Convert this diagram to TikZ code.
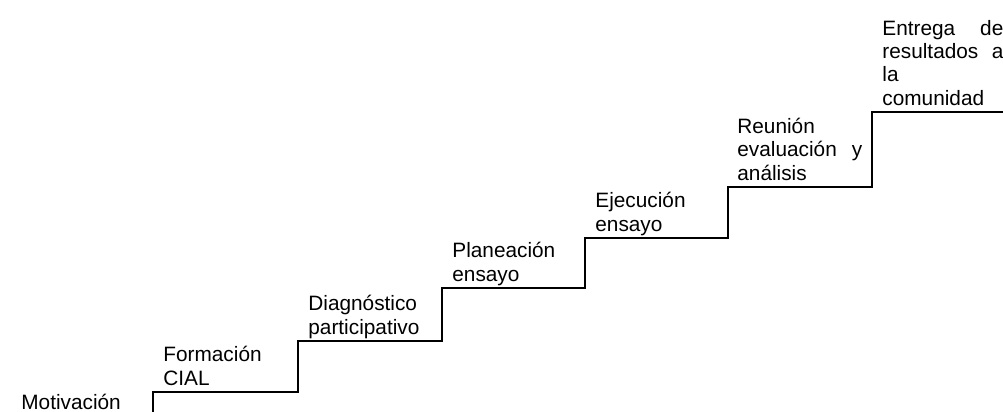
\documentclass[tikz,border=0pt]{standalone}
\usepackage{fontspec}
\setmainfont{Liberation Sans}
\newcommand{\bloque}[2][62.5pt]{\parbox[b]{#1}{#2}}
\newcommand{\estira}{\hspace{0pt plus 1filll}}
\begin{document}
\begin{tikzpicture}[x=0.5pt,y=-0.5pt, font=\fontsize{10.4pt}{11.6pt}\selectfont, line join=miter,
  paso/.style={anchor=base west,inner sep=0pt,xshift=5pt,yshift=3.5pt}]
  \useasboundingbox (0,0) rectangle (1003,412);
  % esquinas de la escalera
  \coordinate (p0) at (153,412);
  \coordinate (p1) at (153,392);
  \coordinate (p2) at (298,341);
  \coordinate (p3) at (442,288);
  \coordinate (p4) at (585,238);
  \coordinate (p5) at (728,187);
  \coordinate (p6) at (872,112);
  \coordinate (p7) at (1003,112);
  \draw[line width=1pt] (p0)--(p1)-|(p2)-|(p3)-|(p4)-|(p5)-|(p6)--(p7);
  \node (mot) at (21,409.5) [anchor=base west,inner sep=0pt]{Motivación};
  \node (form) at (p1) [paso]{\bloque{Formación\\CIAL}};
  \node (diag) at (p2) [paso]{\bloque{Diagnóstico\\participativo}};
  \node (plan) at (p3) [paso]{\bloque{Planeación\\ensayo}};
  \node (ejec) at (p4) [paso]{\bloque{Ejecución\\ensayo}};
  \node (reun) at (p5) [paso,xshift=-0.5pt]{\bloque{Reunión\\evaluación\estira y\\análisis}};
  \node (entr) at (p6) [paso]{\bloque[60.5pt]{Entrega\estira de\\resultados\estira a\\la\\comunidad}};
\end{tikzpicture}
\end{document}
